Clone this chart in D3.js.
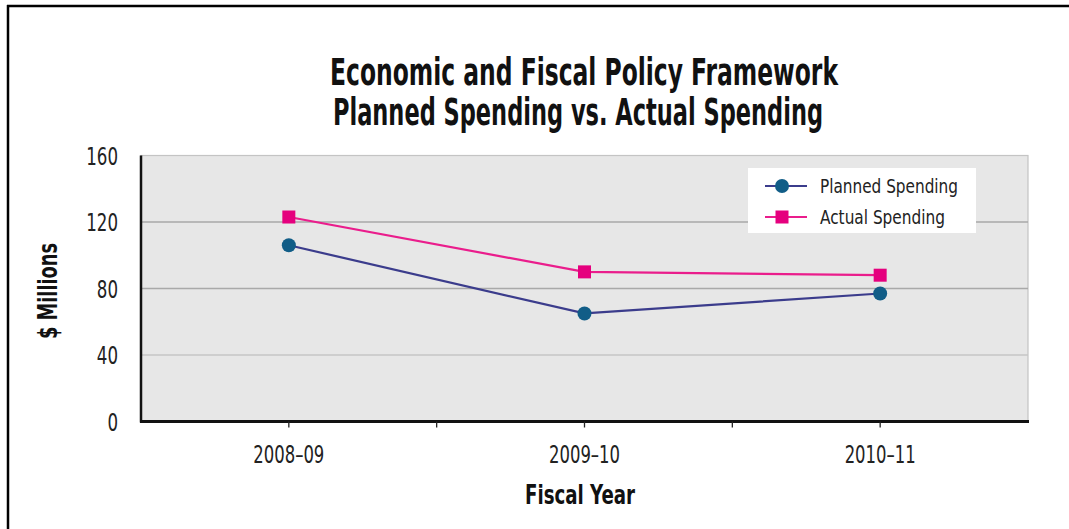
<!DOCTYPE html>
<html><head><meta charset="utf-8">
<script src="https://cdn.jsdelivr.net/npm/d3@7"></script>
<style>body{margin:0;background:#fff}svg{display:block}</style>
</head><body>
<script>
const categories = ["2008–09", "2009–10", "2010–11"];
const planned = [106, 65, 77];
const actual = [123, 90, 88];
const yTicks = [0, 40, 80, 120, 160];
const seriesNames = ["Planned Spending", "Actual Spending"];

const W = 1069, H = 529;
const FONT = "'DejaVu Sans Condensed','Liberation Sans Narrow','Liberation Sans',sans-serif";
const svg = d3.select("body").append("svg").attr("width", W).attr("height", H);

function condense(sel, factor) {
  sel.each(function(){ const l = this.getComputedTextLength(); d3.select(this).attr("textLength", l*factor).attr("lengthAdjust","spacingAndGlyphs"); });
}

// frame (top and left)
svg.append("line").attr("x1",7).attr("x2",W).attr("y1",6).attr("y2",6).attr("stroke","#000").attr("stroke-width",2.5);
svg.append("line").attr("x1",8).attr("x2",8).attr("y1",5).attr("y2",H).attr("stroke","#000").attr("stroke-width",2.5);

const x0 = 141, x1 = 1028, yTop = 155.5, yBot = 421.5;
const x = d3.scaleBand().domain(categories).range([x0, x1]);
const y = d3.scaleLinear().domain([0,160]).range([yBot, yTop]);

svg.append("rect").attr("x",x0).attr("y",yTop).attr("width",x1-x0).attr("height",yBot-yTop)
  .attr("fill","#e7e7e7").attr("stroke","#c4c4c4").attr("stroke-width",1.2);

// gridlines
svg.append("g").selectAll("line").data(yTicks.filter(d=>d>0 && d<160)).join("line")
  .attr("x1",x0).attr("x2",x1).attr("y1",d=>y(d)).attr("y2",d=>y(d))
  .attr("stroke",d=>d===40?"#c6c6c6":"#a9a9a9").attr("stroke-width",1.3);

// y axis labels
svg.append("g").selectAll("text").data(yTicks).join("text")
  .attr("x",118).attr("y",d=>y(d)).attr("dy","0.36em").attr("text-anchor","end")
  .attr("font-family",FONT).attr("font-size",25).attr("fill","#222").text(d=>d)
  .call(condense, 0.74);

// axes lines
svg.append("line").attr("x1",x0).attr("x2",x0).attr("y1",yTop).attr("y2",yBot+1).attr("stroke","#111").attr("stroke-width",2.5);
const xAxis = d3.axisBottom(x).tickSize(0).tickFormat("");
svg.append("g").attr("transform",`translate(0,${yBot})`).call(xAxis).call(g=>g.select(".domain").remove());
svg.append("line").attr("x1",x0-1).attr("x2",x1+1).attr("y1",yBot).attr("y2",yBot).attr("stroke","#111").attr("stroke-width",3);

// ticks at centers and boundaries
const tickXs = [];
categories.forEach((c,i)=>{ tickXs.push(x(c)+x.bandwidth()/2); if(i>0) tickXs.push(x(c)); });
svg.append("g").selectAll("line").data(tickXs).join("line")
  .attr("x1",d=>d).attr("x2",d=>d).attr("y1",yBot).attr("y2",yBot+6).attr("stroke","#222").attr("stroke-width",1.3);

// x labels
svg.append("g").selectAll("text").data(categories).join("text")
  .attr("x",d=>x(d)+x.bandwidth()/2).attr("y",463).attr("text-anchor","middle")
  .attr("font-family",FONT).attr("font-size",24).attr("fill","#222").text(d=>d)
  .attr("textLength",71).attr("lengthAdjust","spacingAndGlyphs");

// axis titles
svg.append("text").attr("x",580).attr("y",504).attr("text-anchor","middle")
  .attr("font-family",FONT).attr("font-size",27).attr("font-weight","bold").attr("fill","#111").text("Fiscal Year")
  .attr("textLength",110).attr("lengthAdjust","spacingAndGlyphs");
svg.append("text").attr("transform","translate(57,291) rotate(-90)").attr("text-anchor","middle")
  .attr("font-family",FONT).attr("font-size",26).attr("font-weight","bold").attr("fill","#111").text("$ Millions")
  .attr("textLength",96).attr("lengthAdjust","spacingAndGlyphs");

// title
svg.append("text").attr("x",584).attr("y",85).attr("text-anchor","middle")
  .attr("font-family",FONT).attr("font-size",37).attr("font-weight","bold").attr("fill","#111")
  .text("Economic and Fiscal Policy Framework")
  .attr("textLength",508).attr("lengthAdjust","spacingAndGlyphs");
svg.append("text").attr("x",578).attr("y",125).attr("text-anchor","middle")
  .attr("font-family",FONT).attr("font-size",37).attr("font-weight","bold").attr("fill","#111")
  .text("Planned Spending vs. Actual Spending")
  .attr("textLength",490).attr("lengthAdjust","spacingAndGlyphs");

// lines
const cx = d => x(d)+x.bandwidth()/2;
const line = d3.line().x(d=>cx(d.c)).y(d=>y(d.v));
const pData = categories.map((c,i)=>({c, v:planned[i]}));
const aData = categories.map((c,i)=>({c, v:actual[i]}));
const PL = "#3b3c8c", PM = "#115d87", AL = "#ea1d8c", AM = "#e5007e";
svg.append("path").datum(aData).attr("d",line).attr("fill","none").attr("stroke",AL).attr("stroke-width",2.2);
svg.append("path").datum(pData).attr("d",line).attr("fill","none").attr("stroke",PL).attr("stroke-width",2.2);
svg.append("g").selectAll("rect").data(aData).join("rect")
  .attr("x",d=>cx(d.c)-6.5).attr("y",d=>y(d.v)-6.5).attr("width",13).attr("height",13).attr("fill",AM);
svg.append("g").selectAll("circle").data(pData).join("circle")
  .attr("cx",d=>cx(d.c)).attr("cy",d=>y(d.v)).attr("r",7).attr("fill",PM);

// legend
const lg = svg.append("g");
lg.append("rect").attr("x",748).attr("y",168).attr("width",228).attr("height",65).attr("fill","#fff");
const rows = [{n:seriesNames[0], l:PL, m:PM, t:"c", w:138},{n:seriesNames[1], l:AL, m:AM, t:"s", w:125}];
rows.forEach((r,i)=>{
  const yy = 186 + i*31;
  lg.append("line").attr("x1",765).attr("x2",807).attr("y1",yy).attr("y2",yy).attr("stroke",r.l).attr("stroke-width",2.2);
  if (r.t==="c") lg.append("circle").attr("cx",782).attr("cy",yy).attr("r",7).attr("fill",r.m);
  else lg.append("rect").attr("x",775.5).attr("y",yy-6.5).attr("width",13).attr("height",13).attr("fill",r.m);
  lg.append("text").attr("x",820).attr("y",yy).attr("dy","0.34em").attr("font-family",FONT).attr("font-size",20)
    .attr("fill","#222").text(r.n).attr("textLength",r.w).attr("lengthAdjust","spacingAndGlyphs");
});
</script>
</body></html>
